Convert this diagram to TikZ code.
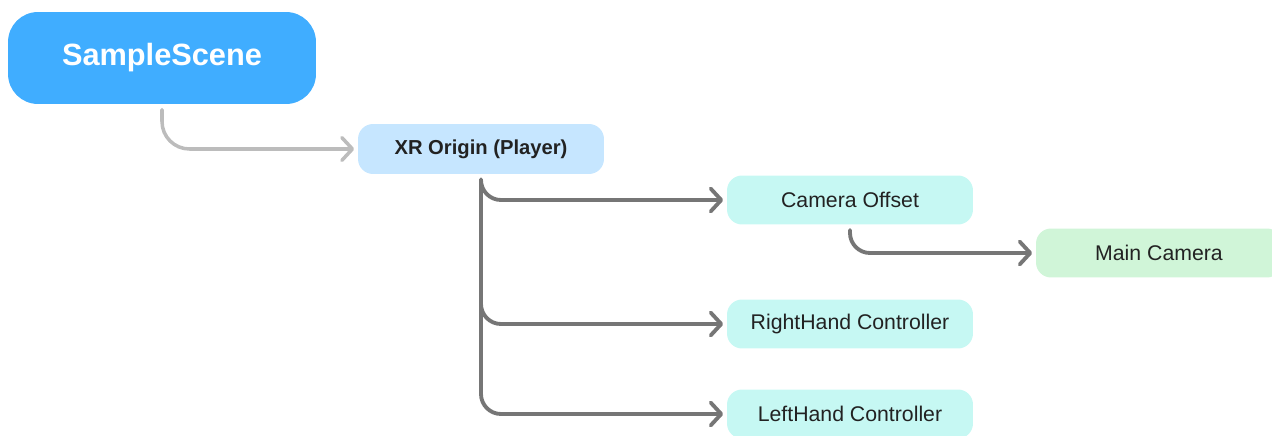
\documentclass[tikz,border=0pt]{standalone}
\usepackage{fontspec}
\setmainfont{Liberation Sans}
\usepackage{tikz}
\usetikzlibrary{arrows.meta, positioning}
\usepackage{xcolor}
\definecolor{sceneblue}{RGB}{64, 173, 255}
\definecolor{originblue}{RGB}{198, 230, 255}
\definecolor{childcyan}{RGB}{198, 248, 243}
\definecolor{cameragreen}{RGB}{208, 245, 216}
\definecolor{linklight}{RGB}{188, 188, 188}
\definecolor{linkdark}{RGB}{118, 118, 118}
\definecolor{textdark}{RGB}{34, 34, 34}

\begin{document}
\begin{tikzpicture}[x=0.02cm, y=-0.02cm,
    box/.style={rounded corners=0.3cm, inner sep=0pt, minimum width=4.92cm,
      minimum height=0.98cm, text=textdark, font=\fontsize{12.1}{14}\selectfont},
    link/.style={draw=linkdark, line width=2.2pt, rounded corners=0.4cm,
      line cap=round, -{Straight Barb[length=6pt, width=13pt, round]},
      shorten <=3pt, shorten >=2pt}
  ]
  \useasboundingbox (0,0) rectangle (1272,436);
  % nodes
  \node[box, fill=sceneblue, minimum width=6.16cm, minimum height=1.84cm,
    rounded corners=0.6cm, text=white, font=\fontsize{17.5}{20}\selectfont\bfseries]
    (scene) at (162,58) {SampleScene};
  \node[box, fill=originblue, minimum height=1cm, font=\fontsize{11.5}{14}\selectfont\bfseries]
    (origin) at (481,149) {XR Origin (Player)};
  \node[box, fill=childcyan] (offset) at (850,200) {Camera Offset};
  \node[box, fill=cameragreen] (maincam) at (1159,253) {Main Camera};
  \node[box, fill=childcyan] (righthand) at (850,324) {RightHand Controller};
  \node[box, fill=childcyan] (lefthand) at (850,414) {LeftHand Controller};
  % connectors
  \draw[link, draw=linklight, line width=2pt, rounded corners=0.55cm] (scene.south) |- (origin.west);
  \draw[link] (origin.south) |- (offset.west);
  \draw[link] (origin.south) |- (righthand.west);
  \draw[link] (origin.south) |- (lefthand.west);
  \draw[link] (offset.south) |- (maincam.west);
\end{tikzpicture}
\end{document}
